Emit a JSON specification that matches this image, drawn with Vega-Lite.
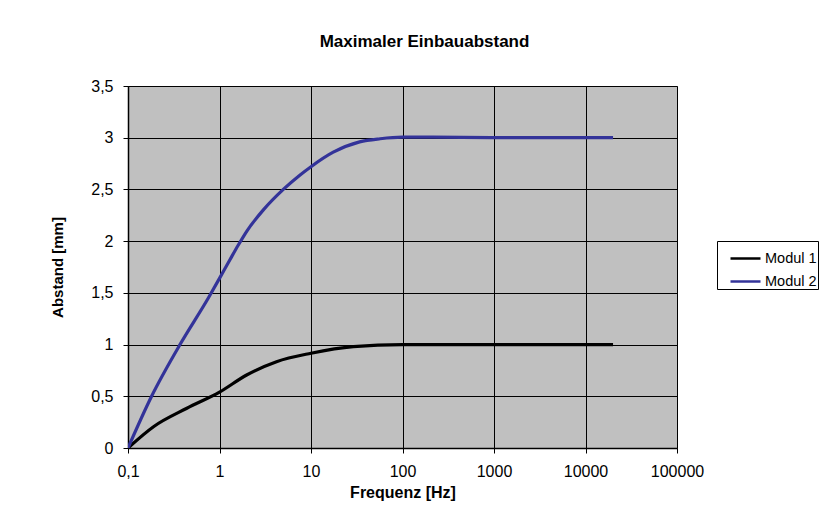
{
  "$schema": "https://vega.github.io/schema/vega-lite/v6.json",
  "width": 549,
  "height": 362,
  "autosize": {"type": "none"},
  "padding": {"left": 128, "top": 86, "right": 149, "bottom": 72},
  "background": "white",
  "title": {
    "text": "Maximaler Einbauabstand",
    "font": "Liberation Sans",
    "fontSize": 17,
    "fontWeight": "bold",
    "color": "black",
    "anchor": "middle",
    "frame": "group",
    "dx": 22,
    "offset": 27
  },
  "data": {
    "values": [
      {"f": 0.1, "a": 0, "s": "Modul 1"},
      {"f": 0.19, "a": 0.206, "s": "Modul 1"},
      {"f": 0.44, "a": 0.384, "s": "Modul 1"},
      {"f": 1, "a": 0.54, "s": "Modul 1"},
      {"f": 1.98, "a": 0.706, "s": "Modul 1"},
      {"f": 4.2, "a": 0.835, "s": "Modul 1"},
      {"f": 10, "a": 0.916, "s": "Modul 1"},
      {"f": 29, "a": 0.98, "s": "Modul 1"},
      {"f": 100, "a": 1.0, "s": "Modul 1"},
      {"f": 1000, "a": 1.0, "s": "Modul 1"},
      {"f": 20000, "a": 1.0, "s": "Modul 1"},
      {"f": 0.1, "a": 0, "s": "Modul 2"},
      {"f": 0.18, "a": 0.496, "s": "Modul 2"},
      {"f": 0.37, "a": 1.0, "s": "Modul 2"},
      {"f": 0.755, "a": 1.45, "s": "Modul 2"},
      {"f": 1, "a": 1.64, "s": "Modul 2"},
      {"f": 1.3, "a": 1.82, "s": "Modul 2"},
      {"f": 1.6, "a": 1.96, "s": "Modul 2"},
      {"f": 2, "a": 2.1, "s": "Modul 2"},
      {"f": 3, "a": 2.3, "s": "Modul 2"},
      {"f": 4.98, "a": 2.5, "s": "Modul 2"},
      {"f": 7.6, "a": 2.64, "s": "Modul 2"},
      {"f": 10, "a": 2.72, "s": "Modul 2"},
      {"f": 17.5, "a": 2.86, "s": "Modul 2"},
      {"f": 34, "a": 2.96, "s": "Modul 2"},
      {"f": 57, "a": 2.99, "s": "Modul 2"},
      {"f": 100, "a": 3.005, "s": "Modul 2"},
      {"f": 200, "a": 3.005, "s": "Modul 2"},
      {"f": 1000, "a": 3.0, "s": "Modul 2"},
      {"f": 20000, "a": 3.0, "s": "Modul 2"}
    ]
  },
  "mark": {"type": "line", "interpolate": "monotone", "strokeWidth": 3.2, "clip": true},
  "encoding": {
    "x": {
      "field": "f",
      "type": "quantitative",
      "scale": {"type": "log", "domain": [0.1, 100000], "nice": false},
      "axis": {
        "title": "Frequenz [Hz]",
        "titleFontSize": 16,
        "values": [0.1, 1, 10, 100, 1000, 10000, 100000],
        "format": ".1~f",
        "labelExpr": "replace(datum.label, '.', ',')",
        "labelFlush": false,
        "labelOverlap": false,
        "titlePadding": 5,
        "labelPadding": 10
      }
    },
    "y": {
      "field": "a",
      "type": "quantitative",
      "scale": {"domain": [0, 3.5], "nice": false},
      "axis": {
        "title": "Abstand [mm]",
        "titleFontSize": 15,
        "values": [0, 0.5, 1, 1.5, 2, 2.5, 3, 3.5],
        "format": ".1~f",
        "labelExpr": "replace(datum.label, '.', ',')",
        "labelPadding": 10,
        "titlePadding": 25
      }
    },
    "color": {
      "field": "s",
      "type": "nominal",
      "scale": {"domain": ["Modul 1", "Modul 2"], "range": ["#000000", "#333399"]},
      "legend": {
        "title": null,
        "orient": "none",
        "legendX": 589,
        "legendY": 155,
        "strokeColor": "black",
        "fillColor": "white",
        "padding": 1,
        "symbolType": "stroke",
        "symbolSize": 900,
        "symbolStrokeWidth": 2.5,
        "symbolOffset": 11,
        "labelOffset": 3,
        "rowPadding": -6,
        "labelFontSize": 14.5,
        "labelFont": "Liberation Sans",
        "labelColor": "black"
      }
    }
  },
  "config": {
    "view": {"fill": "#C0C0C0", "stroke": "#808080", "strokeWidth": 1},
    "axis": {
      "labelFont": "Liberation Sans",
      "labelFontSize": 16,
      "labelColor": "black",
      "titleFont": "Liberation Sans",
      "titleFontWeight": "bold",
      "titleColor": "black",
      "grid": true,
      "gridColor": "black",
      "gridWidth": 1,
      "gridOpacity": 1,
      "domainColor": "black",
      "domainWidth": 1.5,
      "tickColor": "black",
      "tickSize": 5,
      "tickWidth": 1
    }
  }
}
